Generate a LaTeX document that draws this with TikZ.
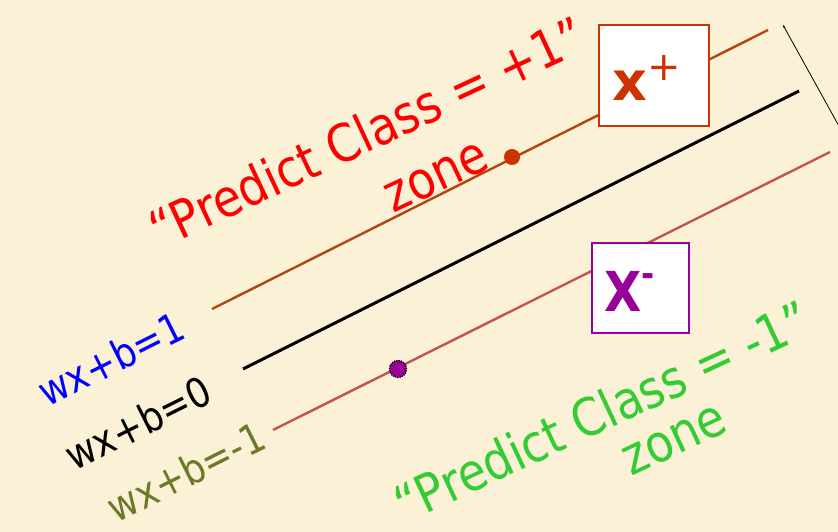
\documentclass[tikz,border=0pt]{standalone}
\usepackage{fontspec}
\setmainfont{DejaVu Sans}
\newfontfamily\narrowfont[FakeStretch=0.88]{DejaVu Sans}
\usetikzlibrary{arrows.meta}
\definecolor{bgc}{RGB}{250,241,214}
\definecolor{topc}{RGB}{176,70,16}
\definecolor{botc}{RGB}{196,82,78}
\definecolor{xplus}{RGB}{204,51,0}
\definecolor{xminus}{RGB}{153,0,153}
\definecolor{redt}{RGB}{255,0,0}
\definecolor{greent}{RGB}{51,204,51}
\definecolor{bluet}{RGB}{0,0,255}
\definecolor{olivet}{RGB}{107,122,40}
\tikzset{
  zonetext/.style={rotate=25,font=\narrowfont\fontsize{52}{56}\selectfont,inner sep=0pt},
  eqtext/.style={rotate=26.5,font=\narrowfont\fontsize{41}{44}\selectfont,inner sep=0pt},
  ptbox/.style={draw,fill=white,line width=2.2pt,minimum width=110pt,minimum height=101pt,inner sep=0pt},
}
\begin{document}
\begin{tikzpicture}[x=1pt,y=-1pt]
\fill[bgc] (0,0) rectangle (838,532);
\useasboundingbox (0,0) rectangle (838,532);
% lines
\coordinate (t1) at (212,309); \coordinate (t2) at (768,30);
\coordinate (m1) at (243,369); \coordinate (m2) at (799,91);
\coordinate (b1) at (273,430); \coordinate (b2) at (830,152);
\draw[topc,line width=2.4pt] (t1) -- (t2);
\draw[black,line width=3pt] (m1) -- (m2);
\draw[botc,line width=2.4pt] (b1) -- (b2);
\coordinate (p1) at (783,25); \coordinate (p2) at (840,128);
\draw[black,line width=0.8pt,{Stealth[length=3pt,width=2pt]}-] (p1) -- (p2);
% boxes
\node[ptbox,draw=xplus] (xp) at (654,75.5) {};
\node[text=xplus,inner sep=0pt,anchor=base west] (xpt) at (612,101) {\fontsize{54}{58}\selectfont\bfseries x\raisebox{20pt}{\fontsize{40}{44}\selectfont\mdseries +}};
\node[ptbox,draw=xminus,minimum width=97pt,minimum height=90pt] (xm) at (640.5,288) {};
\node[text=xminus,inner sep=0pt,anchor=base west] (xmt) at (604,311) {\narrowfont\fontsize{55}{58}\selectfont\bfseries X\raisebox{25pt}{\fontsize{36}{40}\selectfont -}};
% dots
\node[circle,fill=xplus,minimum size=16pt,inner sep=0pt] (d1) at (512,157) {};
\node[circle,fill=xminus,draw=black,densely dotted,line width=1.3pt,minimum size=17pt,inner sep=0pt] (d2) at (398,369) {};
% zone texts
\node[zonetext,text=redt] (rz1) at (367,132) {“Predict Class = +1”};
\node[zonetext,text=redt] (rz2) at (437,178) {zone};
\node[zonetext,text=greent] (gz1) at (602,411) {“Predict Class = -1”};
\node[zonetext,text=greent] (gz2) at (675,441) {zone};
% equation labels
\node[eqtext,text=bluet] (e1) at (111,359) {wx+b=1};
\node[eqtext,text=black] (e0) at (138,423) {wx+b=0};
\node[eqtext,text=olivet] (em) at (186,472) {wx+b=-1};
\end{tikzpicture}
\end{document}
